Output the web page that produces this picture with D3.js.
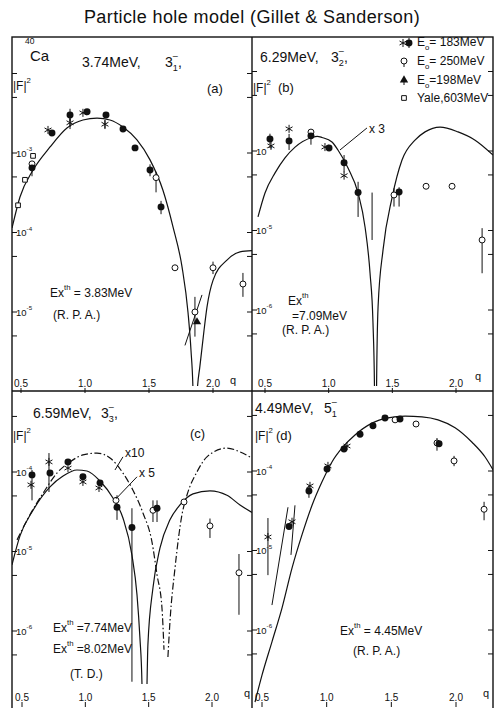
<!DOCTYPE html>
<html lang="en">
<head>
<meta charset="UTF-8">
<title>Particle hole model (Gillet &amp; Sanderson)</title>
<style>
  body { margin: 0; background: #fff; }
  svg { display: block; font-family: "Liberation Sans", Arial, sans-serif; }
  text { fill: #111; }
  .frame { fill: none; stroke: #111; stroke-width: 1.4px; }
  .tick { stroke: #111; stroke-width: 1px; }
  .curve { fill: none; stroke: #111; stroke-width: 1.2px; }
  .dashdot { stroke-dasharray: 7,2.5,1.5,2.5; }
  .err, .lead { stroke: #111; stroke-width: 1px; fill: none; }
</style>
<script src="https://d3js.org/d3.v7.min.js"></script>
</head>
<body>
<script>
// ---- data: [q, |F|^2] ----
const curveA = [[0.43,1.14e-4],[0.492,2.8e-4],[0.594,6.1e-4],[0.727,1.19e-3],[0.859,2.06e-3],[0.984,2.6e-3],[1.094,2.75e-3],[1.195,2.6e-3],[1.297,2.12e-3],[1.406,1.46e-3],[1.508,8.2e-4],[1.609,3.4e-4],[1.688,1.17e-4],[1.758,3.7e-5],[1.805,9.8e-6],[1.828,3.3e-6],[1.844,1.0e-6],[1.859,1e-8],[1.875,9e-7],[1.898,2.1e-6],[1.93,5.9e-6],[1.953,1.15e-5],[2.0,2.5e-5],[2.109,4.5e-5],[2.211,5.7e-5],[2.305,5.9e-5]];
const curveB = [[0.445,1.48e-5],[0.5,2.96e-5],[0.579,5.3e-5],[0.657,8.2e-5],[0.736,1.12e-4],[0.869,1.48e-4],[0.91,1.53e-4],[0.948,1.48e-4],[1.026,1.3e-4],[1.073,1.03e-4],[1.152,6.1e-5],[1.231,2.96e-5],[1.286,1.1e-5],[1.325,2.9e-6],[1.348,6.9e-7],[1.36,1e-7],[1.368,1e-9],[1.376,1e-7],[1.388,1.1e-6],[1.427,5.7e-6],[1.498,2.6e-5],[1.576,7.7e-5],[1.678,1.37e-4],[1.757,1.74e-4],[1.875,2.0e-4],[2.016,1.74e-4],[2.15,1.37e-4],[2.291,8.9e-5]];
const curveC5 = [[0.421,6.8e-6],[0.484,1.57e-5],[0.587,3.3e-5],[0.721,6.5e-5],[0.824,8.9e-5],[0.934,1.06e-4],[1.013,1.03e-4],[1.116,7.7e-5],[1.218,4.7e-5],[1.297,2.64e-5],[1.368,9.0e-6],[1.408,2.84e-6],[1.431,8.2e-7],[1.447,2.2e-7],[1.467,1e-9],[1.487,2.2e-7],[1.494,6.7e-7],[1.534,3.5e-6],[1.589,1.1e-5],[1.668,2.5e-5],[1.747,3.85e-5],[1.85,5.3e-5],[1.984,5.8e-5],[2.118,5.1e-5],[2.221,3.85e-5],[2.315,3.1e-5]];
const curveC10 = [[0.461,1.4e-5],[0.563,2.9e-5],[0.666,5.4e-5],[0.776,9.7e-5],[0.879,1.34e-4],[0.981,1.64e-4],[1.092,1.73e-4],[1.195,1.5e-4],[1.297,9.7e-5],[1.376,5.9e-5],[1.455,3.05e-5],[1.526,1.32e-5],[1.566,5.1e-6],[1.605,1.95e-6],[1.621,5.8e-7],[1.637,null],[1.652,4.7e-7],[1.668,1.3e-6],[1.708,6.2e-6],[1.763,2.9e-5],[1.802,5.1e-5],[1.881,1.0e-4],[1.96,1.55e-4],[2.118,2.0e-4],[2.221,1.79e-4],[2.315,1.5e-4]];
const curveD = [[0.446,1.24e-7],[0.5,2.7e-7],[0.577,7.1e-7],[0.655,1.9e-6],[0.732,6.0e-6],[0.809,1.57e-5],[0.887,3.7e-5],[0.964,7.3e-5],[1.041,1.3e-4],[1.119,1.95e-4],[1.219,2.84e-4],[1.351,4.0e-4],[1.474,4.65e-4],[1.606,4.9e-4],[1.737,4.8e-4],[1.861,4.4e-4],[1.993,3.5e-4],[2.124,2.3e-4],[2.225,1.5e-4],[2.287,1.03e-4]];

// points: [type, q, value, errLow, errHigh]
// fc = 183 MeV (dot), st = 183 MeV (star), oc = 250 MeV, tr = 198 MeV, sq = Yale 603 MeV
const pointsA = [
  ["sq",0.477,2.2e-4],["sq",0.531,4.6e-4],["sq",0.594,9.2e-4],
  ["oc",0.586,7.3e-4],["fc",0.586,6.5e-4,5.1e-4,7.7e-4],
  ["st",0.711,1.95e-3],["fc",0.742,1.79e-3],
  ["fc",0.883,3.0e-3,2.5e-3,3.6e-3],["st",0.883,2.4e-3,2.0e-3,2.75e-3],
  ["st",0.984,3.2e-3],["fc",1.016,3.3e-3],
  ["fc",1.164,3.0e-3],["st",1.156,2.3e-3,2.0e-3,2.6e-3],
  ["fc",1.297,2.0e-3],["fc",1.391,1.16e-3],
  ["fc",1.508,6.1e-4,5.1e-4,7.2e-4],["oc",1.555,4.9e-4,3.2e-4,5.8e-4],
  ["fc",1.594,2.1e-4,1.7e-4,2.5e-4],["oc",1.703,3.6e-5],
  ["oc",1.859,1.0e-5,4.9e-6,1.55e-5],["tr",1.875,7.5e-6],
  ["oc",2.0,3.6e-5,3.0e-5,4.3e-5],["oc",2.234,2.25e-5,1.55e-5,3.1e-5]
];
const pointsB = [
  ["fc",0.539,1.42e-4,1.2e-4,1.65e-4],["st",0.547,1.16e-4],
  ["st",0.689,1.9e-4],["fc",0.689,1.34e-4,1.03e-4,1.64e-4],
  ["oc",0.861,1.73e-4],["fc",0.861,1.55e-4,1.2e-4,1.85e-4],
  ["st",0.971,1.12e-4],["fc",1.003,1.09e-4],
  ["fc",1.121,7.1e-5,5.4e-5,8.9e-5],["st",1.121,4.9e-5],
  ["fc",1.231,3.0e-5,1.48e-5,4.1e-5],["bar",1.341,1.5e-5,7.6e-6,3.0e-5],
  ["oc",1.513,2.8e-5,2.0e-5,3.4e-5],["fc",1.553,3.05e-5,2.0e-5,3.5e-5],
  ["oc",1.765,3.6e-5],["oc",1.969,3.6e-5],
  ["oc",2.205,7.6e-6,2.9e-6,1.07e-5]
];
const pointsC = [
  ["fc",0.579,9.2e-5,4.4e-5,1.06e-4],["st",0.571,6.9e-5],
  ["st",0.713,1.34e-4,5.6e-5,1.73e-4],["fc",0.721,9.7e-5],
  ["fc",0.863,1.34e-4],["st",0.863,1.12e-4],
  ["fc",0.981,8.7e-5],["st",0.981,7.5e-5],
  ["fc",1.116,7.3e-5],["st",1.108,6.3e-5],
  ["oc",1.242,4.4e-5],["fc",1.25,3.6e-5,2.5e-5,5.1e-5],
  ["fc",1.368,2.0e-5,2.3e-7,3.5e-5],
  ["oc",1.534,3.3e-5,2.35e-5,4.4e-5],["fc",1.566,3.5e-5,2.35e-5,4.4e-5],
  ["oc",1.779,4.2e-5],["oc",1.984,2.1e-5,1.48e-5,2.6e-5],
  ["oc",2.213,5.4e-6,1.6e-6,9.3e-6]
];
const pointsD = [
  ["st",0.546,1.48e-5,4.9e-6,2.56e-5],["fc",0.709,2.0e-5],["st",0.732,2.3e-5],
  ["fc",0.863,5.6e-5,4.6e-5,6.6e-5],["st",0.871,6.5e-5],
  ["fc",1.003,1.06e-4],["st",1.01,1.16e-4],
  ["fc",1.134,1.89e-4],["st",1.157,2.06e-4],
  ["fc",1.258,2.9e-4],["fc",1.358,3.7e-4],["fc",1.451,4.65e-4],
  ["oc",1.529,4.4e-4],["fc",1.567,4.5e-4],["oc",1.691,3.9e-4],
  ["oc",1.853,2.25e-4,1.8e-4,2.6e-4],["fc",1.869,2.2e-4],
  ["oc",1.985,1.34e-4,1.15e-4,1.55e-4],["oc",2.217,3.3e-5,2.4e-5,4.1e-5]
];
// slanted error strokes
const slantA = [[[1.781,3.8e-6],[1.914,1.64e-5]]];
const slantD = [[[0.577,2.06e-6],[0.701,3.5e-5]],[[0.724,8.8e-6],[0.755,3.7e-5]]];
// annotation leaders
const leaderB = [[1.301,1.95e-4],[1.089,1.03e-4]];
const leaderC10 = [[1.297,1.55e-4],[1.234,1.06e-4]];
const leaderC5 = [[1.408,8.7e-5],[1.242,4.6e-5]];

const xTicks = [0.5, 1.0, 1.5, 2.0];
const xTickLabels = ["0.5", "1.0", "1.5", "2.0"];
const legendLabels = [["E","o","= 183MeV"],["E","o","= 250MeV"],["E","o","=198MeV"],["Yale,603MeV"]];

// ---- layout ----
const W = 498, H = 708;
const svg = d3.select("body").append("svg").attr("width", W).attr("height", H);

const panels = [
  { id:"a", left:12, right:252, top:37, bottom:391, xr:[21,213], yd:[1e-3,1e-4], yr:[153,232.5], clipB:386, labY:388, qx:233, qy:384,
    labels:[-3,-4,-5], curves:[{d:curveA}], points:pointsA, slants:slantA },
  { id:"b", left:252, right:493, top:37, bottom:391, xr:[265,456], yd:[1e-4,1e-5], yr:[151,230.5], clipB:386, labY:388, qx:478, qy:380,
    labels:[-4,-5,-6], curves:[{d:curveB}], points:pointsB, slants:[], leaders:[leaderB] },
  { id:"c", left:12, right:252, top:391, bottom:712, xr:[22,212], yd:[1e-4,1e-5], yr:[472,551.5], clipB:684, labY:702, qx:247, qy:697,
    labels:[-4,-5,-6], curves:[{d:curveC5},{d:curveC10, dash:true}], points:pointsC, slants:[], leaders:[leaderC10, leaderC5] },
  { id:"d", left:252, right:493, top:391, bottom:712, xr:[262,456], yd:[1e-4,1e-5], yr:[471,550.5], clipB:708, labY:702, qx:486, qy:697,
    labels:[-4,-5,-6], curves:[{d:curveD}], points:pointsD, slants:slantD }
];

const symbols = {
  fc: d3.symbol(d3.symbolCircle, 38),
  oc: d3.symbol(d3.symbolCircle, 28),
  sq: d3.symbol(d3.symbolSquare, 22),
  tr: d3.symbol(d3.symbolTriangle, 30),
  st: d3.symbol(d3.symbolAsterisk, 45)
};
function drawSymbol(g, type, x, y) {
  if (type === "bar") return;
  const p = g.append("path").attr("d", symbols[type]()).attr("transform", `translate(${x},${y})`);
  if (type === "fc" || type === "tr") p.attr("fill", "#111");
  else if (type === "st") p.attr("fill", "none").attr("stroke", "#111").attr("stroke-width", 1);
  else p.attr("fill", "#fff").attr("stroke", "#111").attr("stroke-width", 1);
}

function supText(g, x, y, size, parts) {
  // parts: [text, level (-1 sup, +1 sub, 0 normal), dx]
  const t = g.append("text").attr("x", x).attr("y", y).style("font-size", size + "px");
  let cur = 0;
  parts.forEach(([s, lvl, dx]) => {
    const target = lvl * size * (lvl < 0 ? 0.55 : 0.3);
    const ts = t.append("tspan").attr("dy", target - cur).text(s);
    if (lvl !== 0) ts.style("font-size", (size * 0.65) + "px");
    if (dx) ts.attr("dx", dx);
    cur = target;
  });
  return t;
}

// title
svg.append("text").attr("x", 252).attr("y", 23).attr("text-anchor", "middle")
  .style("font-size", "18px").style("letter-spacing", "0.4px")
  .text("Particle hole model (Gillet & Sanderson)");

panels.forEach(p => {
  const g = svg.append("g");
  const x = d3.scaleLinear().domain([0.5, 2.0]).range(p.xr);
  const y = d3.scaleLog().domain(p.yd).range(p.yr);

  g.append("clipPath").attr("id", "clip-" + p.id).append("rect")
    .attr("x", p.left).attr("y", p.top).attr("width", p.right - p.left).attr("height", p.clipB - p.top);

  // y ticks on both sides
  const yt = [];
  for (let e = -9; e <= 0; e++) [1, 5].forEach(m => {
    const v = m * Math.pow(10, e), py = y(v);
    if (py > p.top + 3 && py < p.bottom - 3) yt.push(v);
  });
  g.selectAll(".ytl").data(yt).enter().append("line").attr("class", "tick")
    .attr("x1", p.left).attr("x2", p.left + 5).attr("y1", d => y(d)).attr("y2", d => y(d));
  g.selectAll(".ytr").data(yt).enter().append("line").attr("class", "tick")
    .attr("x1", p.right - 5).attr("x2", p.right).attr("y1", d => y(d)).attr("y2", d => y(d));
  p.labels.forEach(e => {
    supText(g, p.left + 4, y(Math.pow(10, e)) + 3.5, 9.5, [["10", 0], [String(e), -1]]);
  });

  // x ticks
  g.selectAll(".xt").data(xTicks).enter().append("line").attr("class", "tick")
    .attr("x1", d => x(d)).attr("x2", d => x(d)).attr("y1", p.labY).attr("y2", p.labY + 5);
  g.selectAll(".xl").data(xTicks).enter().append("text")
    .attr("x", d => x(d)).attr("y", p.labY - 1).attr("text-anchor", "middle")
    .style("font-size", "10px").text((d, i) => xTickLabels[i]);
  g.append("text").attr("x", p.qx).attr("y", p.qy).attr("text-anchor", "middle")
    .style("font-size", "11px").text("q");

  // curves
  const cg = g.append("g").attr("clip-path", `url(#clip-${p.id})`);
  const line = d3.line().defined(d => d[1] != null)
    .x(d => x(d[0])).y(d => y(d[1])).curve(d3.curveMonotoneX);
  p.curves.forEach(c => {
    cg.append("path").datum(c.d).attr("class", "curve" + (c.dash ? " dashdot" : "")).attr("d", line);
  });
  const seg = d3.line().x(d => x(d[0])).y(d => y(d[1]));
  p.slants.forEach(s => cg.append("path").datum(s).attr("class", "err").attr("d", seg));
  (p.leaders || []).forEach(s => g.append("path").datum(s).attr("class", "lead").attr("d", seg));

  // error bars and points
  p.points.filter(d => d[3] != null).forEach(d => {
    cg.append("line").attr("class", "err")
      .attr("x1", x(d[1])).attr("x2", x(d[1])).attr("y1", y(d[3])).attr("y2", y(d[4]));
  });
  p.points.forEach(d => drawSymbol(cg, d[0], x(d[1]), y(d[2])));
  p.g = g;
});

// frame
svg.append("rect").attr("class", "frame").attr("x", 12).attr("y", 37).attr("width", 481).attr("height", 675);
svg.append("line").attr("class", "frame").attr("x1", 252).attr("x2", 252).attr("y1", 37).attr("y2", 712);
svg.append("line").attr("class", "frame").attr("x1", 12).attr("x2", 493).attr("y1", 391).attr("y2", 391);

// ---- panel annotations ----
const [pa, pb, pc, pd] = panels;
// (a)
pa.g.append("text").attr("x", 25).attr("y", 44).style("font-size", "8.5px").text("40");
pa.g.append("text").attr("x", 30).attr("y", 61).style("font-size", "15px").text("Ca");
pa.g.append("text").attr("x", 82).attr("y", 67).style("font-size", "14px").text("3.74MeV,");
supText(pa.g, 165, 67, 14, [["3", 0], ["1", 1], ["\u2013", -1, -5], [",", 0]]);
supText(pa.g, 13, 90, 12, [["|F|", 0], ["2", -1]]);
pa.g.append("text").attr("x", 207).attr("y", 93).style("font-size", "13px").text("(a)");
supText(pa.g, 50, 297, 12, [["Ex", 0], ["th", -1], [" = 3.83MeV", 0]]);
pa.g.append("text").attr("x", 53).attr("y", 319).style("font-size", "12px").text("(R. P. A.)");

// (b)
pb.g.append("text").attr("x", 260).attr("y", 62).style("font-size", "14px").text("6.29MeV,");
supText(pb.g, 331, 62, 14, [["3", 0], ["2", 1], ["\u2013", -1, -5], [",", 0]]);
supText(pb.g, 253, 92, 12, [["|F|", 0], ["2", -1]]);
pb.g.append("text").attr("x", 278).attr("y", 92).style("font-size", "13px").text("(b)");
pb.g.append("text").attr("x", 369).attr("y", 133).style("font-size", "12px").text("x 3");
supText(pb.g, 288, 305, 12, [["Ex", 0], ["th", -1]]);
pb.g.append("text").attr("x", 292).attr("y", 320).style("font-size", "12px").text("=7.09MeV");
pb.g.append("text").attr("x", 282).attr("y", 334).style("font-size", "12px").text("(R. P. A.)");

// legend
const legY = [46, 65, 84, 102];
drawSymbol(pb.g, "st", 403, legY[0] - 3);
drawSymbol(pb.g, "fc", 409, legY[0] - 3);
pb.g.append("line").attr("class", "err").attr("x1", 409).attr("x2", 409).attr("y1", legY[0] - 8).attr("y2", legY[0] + 2);
drawSymbol(pb.g, "oc", 404, legY[1] - 4);
pb.g.append("line").attr("class", "err").attr("x1", 404).attr("x2", 404).attr("y1", legY[1] - 1).attr("y2", legY[1] + 2);
drawSymbol(pb.g, "tr", 404, legY[2] - 4);
pb.g.append("line").attr("class", "err").attr("x1", 404).attr("x2", 404).attr("y1", legY[2] - 4).attr("y2", legY[2] + 1);
drawSymbol(pb.g, "sq", 404, legY[3] - 4);
legendLabels.forEach((l, i) => {
  if (l.length === 3) supText(pb.g, 417, legY[i], 12, [[l[0], 0], [l[1], 1], [l[2], 0]]);
  else pb.g.append("text").attr("x", 417).attr("y", legY[i]).style("font-size", "12px").text(l[0]);
});

// (c)
pc.g.append("text").attr("x", 33).attr("y", 418).style("font-size", "14px").text("6.59MeV,");
supText(pc.g, 101, 418, 14, [["3", 0], ["3", 1], ["\u2013", -1, -5], [",", 0]]);
supText(pc.g, 13, 440, 12, [["|F|", 0], ["2", -1]]);
pc.g.append("text").attr("x", 190).attr("y", 438).style("font-size", "13px").text("(c)");
pc.g.append("text").attr("x", 125).attr("y", 457).style("font-size", "12px").text("x10");
pc.g.append("text").attr("x", 139).attr("y", 477).style("font-size", "12px").text("x 5");
supText(pc.g, 53, 632, 12, [["Ex", 0], ["th", -1], [" =7.74MeV", 0]]);
supText(pc.g, 53, 653, 12, [["Ex", 0], ["th", -1], [" =8.02MeV", 0]]);
pc.g.append("text").attr("x", 70).attr("y", 678).style("font-size", "12px").text("(T. D.)");

// (d)
pd.g.append("text").attr("x", 255).attr("y", 413).style("font-size", "14px").text("4.49MeV,");
supText(pd.g, 324, 413, 14, [["5", 0], ["1", 1], ["\u2013", -1, -5]]);
supText(pd.g, 255, 440, 12, [["|F|", 0], ["2", -1]]);
pd.g.append("text").attr("x", 276).attr("y", 440).style("font-size", "13px").text("(d)");
supText(pd.g, 340, 635, 12, [["Ex", 0], ["th", -1], [" = 4.45MeV", 0]]);
pd.g.append("text").attr("x", 353).attr("y", 655).style("font-size", "12px").text("(R. P. A.)");
</script>
</body>
</html>
